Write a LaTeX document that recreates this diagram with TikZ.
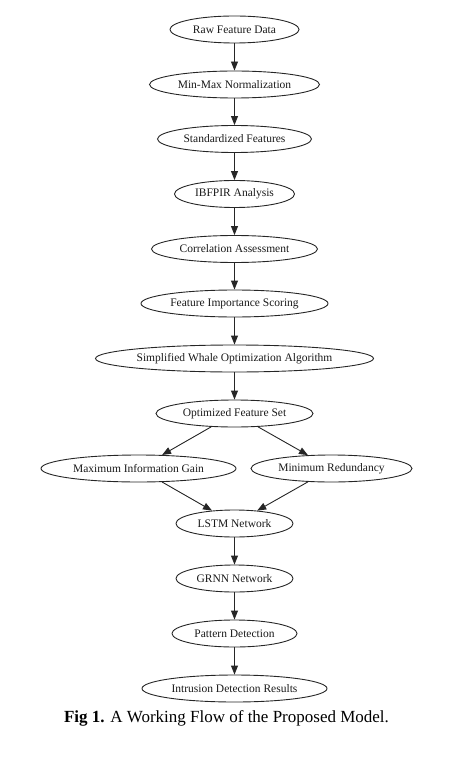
\documentclass[tikz,border=0pt]{standalone}
\usepackage{fontspec}
\setmainfont{Liberation Serif}
\usetikzlibrary{shapes.geometric,arrows.meta}
\tikzset{
  flow/.style={ellipse,draw=black!85,line width=0.9pt,inner sep=0pt,minimum height=27pt,font=\fontsize{11.5}{13}\selectfont,text=black!90},
  conn/.style={draw=black!85,line width=0.9pt,-{Triangle[length=9pt,width=7pt]}}
}
\begin{document}
\begin{tikzpicture}[x=1pt,y=-1pt]
\useasboundingbox (0,0) rectangle (453,767);
\node[flow,minimum width=129pt] (raw) at (234.5,29.5) {Raw Feature Data};
\node[flow,minimum width=170pt] (mm) at (234.5,84.5) {Min-Max Normalization};
\node[flow,minimum width=154pt] (std) at (234.5,139) {Standardized Features};
\node[flow,minimum width=120pt] (ib) at (234.5,194) {IBFPIR Analysis};
\node[flow,minimum width=166pt] (corr) at (234.5,249) {Correlation Assessment};
\node[flow,minimum width=187pt] (fis) at (234.5,303.5) {Feature Importance Scoring};
\node[flow,minimum width=278pt] (swo) at (234.5,358.5) {Simplified Whale Optimization Algorithm};
\node[flow,minimum width=157pt] (ofs) at (234.5,413.5) {Optimized Feature Set};
\node[flow,minimum width=195pt] (mig) at (138.5,468.5) {Maximum Information Gain};
\node[flow,minimum width=161pt] (mr) at (331.5,468.5) {Minimum Redundancy};
\node[flow,minimum width=117pt] (lstm) at (234.5,523.5) {LSTM Network};
\node[flow,minimum width=117pt] (grnn) at (234.5,578.5) {GRNN Network};
\node[flow,minimum width=125pt] (pd) at (234.5,633.5) {Pattern Detection};
\node[flow,minimum width=185pt] (idr) at (234.5,688.5) {Intrusion Detection Results};
\node[font=\fontsize{17}{20}\selectfont,inner sep=0pt] (cap) at (226.5,718) {\textbf{Fig 1.} A Working Flow of the Proposed Model.};
\draw[conn] (raw) -- (mm);
\draw[conn] (mm) -- (std);
\draw[conn] (std) -- (ib);
\draw[conn] (ib) -- (corr);
\draw[conn] (corr) -- (fis);
\draw[conn] (fis) -- (swo);
\draw[conn] (swo) -- (ofs);
\draw[conn] (ofs) -- (mig);
\draw[conn] (ofs) -- (mr);
\draw[conn] (mig) -- (lstm);
\draw[conn] (mr) -- (lstm);
\draw[conn] (lstm) -- (grnn);
\draw[conn] (grnn) -- (pd);
\draw[conn] (pd) -- (idr);
\end{tikzpicture}
\end{document}
